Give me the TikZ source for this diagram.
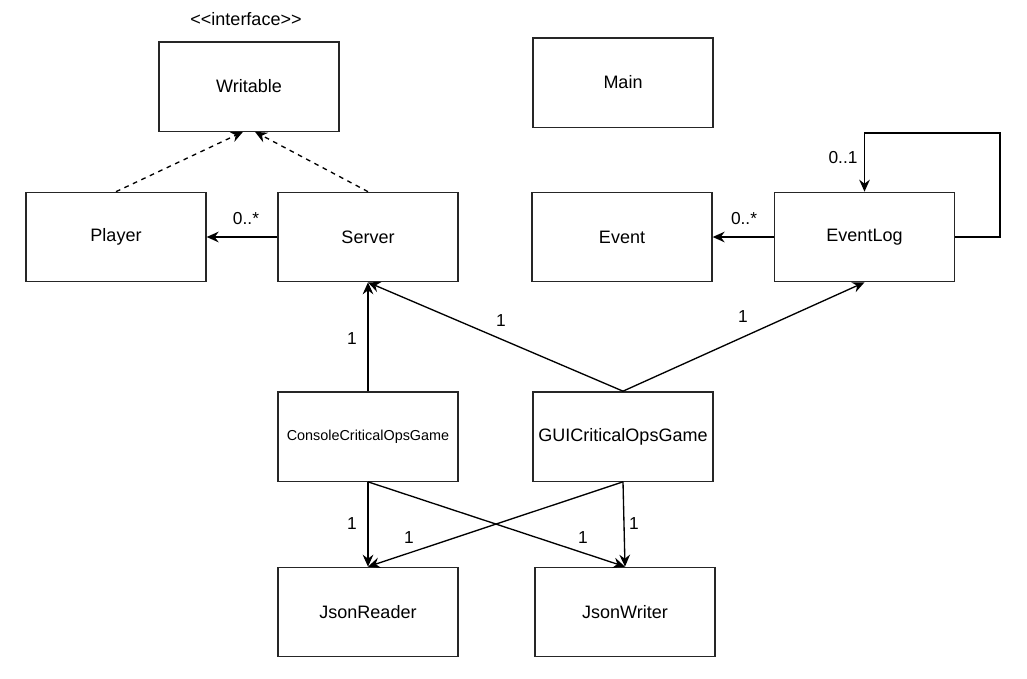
\documentclass[tikz,border=0pt]{standalone}
\usepackage{fontspec}
\setmainfont{Liberation Sans}
\usetikzlibrary{arrows.meta,calc}
\begin{document}
\begin{tikzpicture}[x=0.75pt,y=-0.75pt,
  cls/.style={draw=black!85,line width=1pt,fill=white,minimum width=135pt,minimum height=67pt,inner sep=0pt,font=\fontsize{13.5}{16}\selectfont},
  lbl/.style={inner sep=0pt,font=\fontsize{13}{15}\selectfont},
  assoc/.style={line width=1pt,-{Stealth[length=9pt,width=8pt,inset=3pt]}},
  real/.style={assoc,dash pattern=on 3.5pt off 3.5pt}]
\useasboundingbox (0,0) rectangle (1027,678);
% classes
\node[cls] (wr) at (249,86.5) {Writable};
\node[inner sep=0pt,font=\fontsize{13.5}{16}\selectfont] (stereo) at (246,19) {<{}<interface>{}>};
\node[cls] (main) at (623,82.5) {Main};
\node[cls] (pl) at (116,237) {Player};
\node[cls] (srv) at (368,237) {Server};
\node[cls] (ev) at (622,237) {Event};
\node[cls] (el) at (864.5,237) {EventLog};
\node[cls,font=\fontsize{10.8}{13}\selectfont] (con) at (368,436.5) {ConsoleCriticalOpsGame};
\node[cls] (gui) at (623,436.5) {GUICriticalOpsGame};
\node[cls] (jr) at (368,612) {JsonReader};
\node[cls] (jw) at (625,612) {JsonWriter};
% realizations
\draw[real] (pl.north) -- ($(wr.south)+(-6,0)$);
\draw[real] (srv.north) -- ($(wr.south)+(6,0)$);
% associations
\draw[assoc] (srv.west) -- (pl.east);
\node[lbl] (l1) at (246,219) {0..*};
\draw[assoc] (el.west) -- (ev.east);
\node[lbl] (l2) at (744,219) {0..*};
\coordinate (lp) at (1000,133);
\draw[assoc] (el.east) -| (lp) -| (el.north);
\node[lbl] (l3) at (843,158) {0..1};
\draw[assoc] (con.north) -- (srv.south);
\node[lbl] (l4) at (352,339) {1};
\draw[assoc] (gui.north) -- (srv.south);
\node[lbl] (l5) at (501,321) {1};
\draw[assoc] (gui.north) -- (el.south);
\node[lbl] (l6) at (743,317) {1};
\draw[assoc] (con.south) -- (jr.north);
\node[lbl] (l7) at (352,524) {1};
\draw[assoc] (con.south) -- (jw.north);
\node[lbl] (l8) at (583,538) {1};
\draw[assoc] (gui.south) -- (jr.north);
\node[lbl] (l9) at (409,538) {1};
\draw[assoc] (gui.south) -- (jw.north);
\node[lbl] (l10) at (634,524) {1};
\end{tikzpicture}
\end{document}
